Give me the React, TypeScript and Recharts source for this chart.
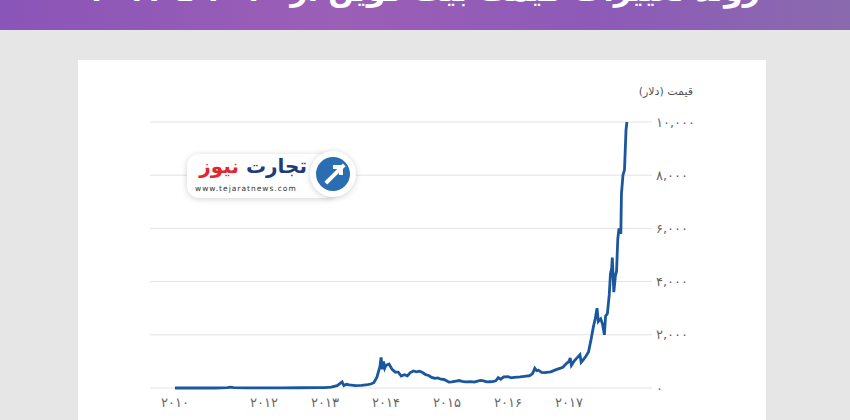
import { LineChart, Line, XAxis, YAxis, CartesianGrid } from "recharts";

// time in fractional years, price in USD
const years = [
  2010.54, 2010.8, 2011.0, 2011.2, 2011.4, 2011.45, 2011.5, 2011.7, 2011.9, 2012.0,
  2012.3, 2012.6, 2012.9, 2013.0, 2013.1, 2013.2, 2013.28, 2013.31, 2013.35, 2013.4,
  2013.5, 2013.6, 2013.7, 2013.75, 2013.8, 2013.85, 2013.9, 2013.92, 2013.94, 2013.96,
  2013.98, 2014.0, 2014.05, 2014.1, 2014.15, 2014.2, 2014.25, 2014.3, 2014.35, 2014.4,
  2014.45, 2014.5, 2014.55, 2014.6, 2014.65, 2014.7, 2014.75, 2014.8, 2014.85, 2014.9,
  2014.95, 2015.0, 2015.03, 2015.08, 2015.15, 2015.2, 2015.25, 2015.3, 2015.4, 2015.45,
  2015.5, 2015.55, 2015.6, 2015.65, 2015.7, 2015.75, 2015.8, 2015.84, 2015.88, 2015.93,
  2016.0, 2016.05, 2016.1, 2016.2, 2016.3, 2016.35, 2016.4, 2016.44, 2016.47, 2016.5,
  2016.55, 2016.6, 2016.7, 2016.8, 2016.85, 2016.9, 2016.95, 2017.0, 2017.02, 2017.04,
  2017.08, 2017.15, 2017.18, 2017.2, 2017.23, 2017.28, 2017.32, 2017.36, 2017.4, 2017.43,
  2017.46, 2017.48, 2017.52, 2017.55, 2017.58, 2017.6, 2017.63, 2017.66, 2017.68, 2017.7,
  2017.71, 2017.735, 2017.76, 2017.78, 2017.8, 2017.82, 2017.85, 2017.86, 2017.885, 2017.91,
  2017.935, 2017.95,
];
const prices = [
  0.06, 0.2, 0.3, 0.9, 15, 30, 14, 5, 3, 5,
  5, 10, 13, 13, 30, 90, 230, 90, 140, 120,
  90, 100, 130, 150, 200, 400, 800, 1150, 700, 1000,
  750, 850, 900, 700, 600, 600, 450, 500, 460, 580,
  640, 610, 630, 580, 500, 470, 400, 360, 380, 330,
  320, 260, 220, 230, 260, 280, 250, 230, 240, 225,
  260, 285, 270, 230, 235, 240, 270, 390, 330, 420,
  430, 380, 400, 420, 450, 460, 530, 740, 650, 670,
  590, 580, 610, 700, 740, 780, 900, 1000, 1130, 850,
  1000, 1180, 1250, 970, 1050, 1200, 1350, 1800, 2300, 2600,
  3000, 2500, 2600, 2400, 2000, 2700, 2800, 3500, 4300, 4500,
  4900, 3600, 4200, 4400, 5600, 6000, 5800, 7300, 8000, 8200,
  9700, 10000,
];

const xTicks = [2010.54, 2012, 2013, 2014, 2015, 2016, 2017];
const xLabels = ["2010", "2012", "2013", "2014", "2015", "2016", "2017"];
const yTicks = [0, 2000, 4000, 6000, 8000, 10000];

const data = years.map((t, i) => ({ t, price: prices[i] }));

const fa = (s: string) => s.replace(/\d/g, (d) => "۰۱۲۳۴۵۶۷۸۹"[Number(d)]);

const tickStyle = { fill: "#666", fontSize: 13, fontFamily: "DejaVu Sans" };

export default function App() {
  return (
    <div style={{ position: "absolute", left: 0, top: 0, width: 850, height: 420, background: "#e6e6e6", overflow: "hidden" }}>
      {/* banner */}
      <div
        style={{
          position: "absolute", left: 0, top: 0, width: 850, height: 30, overflow: "hidden",
          background: "linear-gradient(90deg, #8a55b8 0%, #9b5fb6 40%, #8d5ab8 70%, #8a6aae 100%)",
        }}
      >
        <div
          style={{
            position: "absolute", left: 0, top: -27, width: 850, textAlign: "center", direction: "rtl",
            color: "#fff", fontSize: 30, fontWeight: 700, fontFamily: "DejaVu Sans",
          }}
        >
          روند تغییرات قیمت بیت کوین از ۲۰۱۰ تا ۲۰۱۷
        </div>
      </div>
      {/* card */}
      <div style={{ position: "absolute", left: 78, top: 60, width: 688, height: 360, background: "#fff" }} />
      <div style={{ position: "absolute", left: 0, top: 0 }}>
        <LineChart width={850} height={420} data={data} margin={{ top: 122, right: 0, bottom: 0, left: 150 }}>
          <CartesianGrid horizontal vertical={false} stroke="#e3e3e3" />
          <XAxis
            dataKey="t"
            type="number"
            domain={[2010.131, 2018.361]}
            allowDataOverflow
            ticks={xTicks}
            tickFormatter={(v: number) => fa(xLabels[xTicks.indexOf(v)] ?? "")}
            axisLine={false}
            tickLine={false}
            tick={tickStyle}
            tickMargin={4}
            height={32}
          />
          <YAxis
            orientation="right"
            domain={[0, 10000]}
            ticks={yTicks}
            tickFormatter={(v: number) => fa(v.toLocaleString("en-US"))}
            axisLine={false}
            tickLine={false}
            tickSize={0}
            tickMargin={4}
            tick={tickStyle}
            width={198}
          />
          <Line type="linear" dataKey="price" stroke="#1b579e" strokeWidth={2.8} dot={false} isAnimationActive={false} />
        </LineChart>
      </div>
      {/* axis title */}
      <div style={{ position: "absolute", left: 600, top: 85, width: 93, textAlign: "right", direction: "rtl", fontSize: 11, color: "#555", fontFamily: "DejaVu Sans" }}>
        قیمت (دلار)
      </div>
      {/* watermark logo */}
      <div
        style={{
          position: "absolute", left: 187, top: 154, width: 150, height: 44, borderRadius: 12, background: "#fff",
          boxShadow: "0 1px 6px rgba(0,0,0,0.18)",
        }}
      >
        <div style={{ position: "absolute", right: 30, top: 0, direction: "rtl", fontSize: 20, fontWeight: 700, fontFamily: "DejaVu Sans", whiteSpace: "nowrap" }}>
          <span style={{ color: "#1d3c78" }}>تجارت</span>{" "}
          <span style={{ color: "#e3262d" }}>نیوز</span>
        </div>
        <div style={{ position: "absolute", left: 8, top: 30, fontSize: 7.5, letterSpacing: 1, color: "#333", fontFamily: "DejaVu Sans" }}>
          www.tejaratnews.com
        </div>
      </div>
      <div
        style={{
          position: "absolute", left: 310, top: 151, width: 46, height: 46, borderRadius: 23, background: "#fff",
          boxShadow: "0 1px 6px rgba(0,0,0,0.18)",
        }}
      >
        <div style={{ position: "absolute", left: 6, top: 6, width: 34, height: 34, borderRadius: 17, background: "#2b6db3", overflow: "hidden" }}>
          <div style={{ position: "absolute", left: 6, top: 15, width: 26, height: 4, background: "#fff", transform: "rotate(-45deg)" }} />
          <div style={{ position: "absolute", left: 17, top: 8, width: 10, height: 10, borderTop: "4px solid #fff", borderRight: "4px solid #fff", boxSizing: "border-box" }} />
        </div>
      </div>
    </div>
  );
}
